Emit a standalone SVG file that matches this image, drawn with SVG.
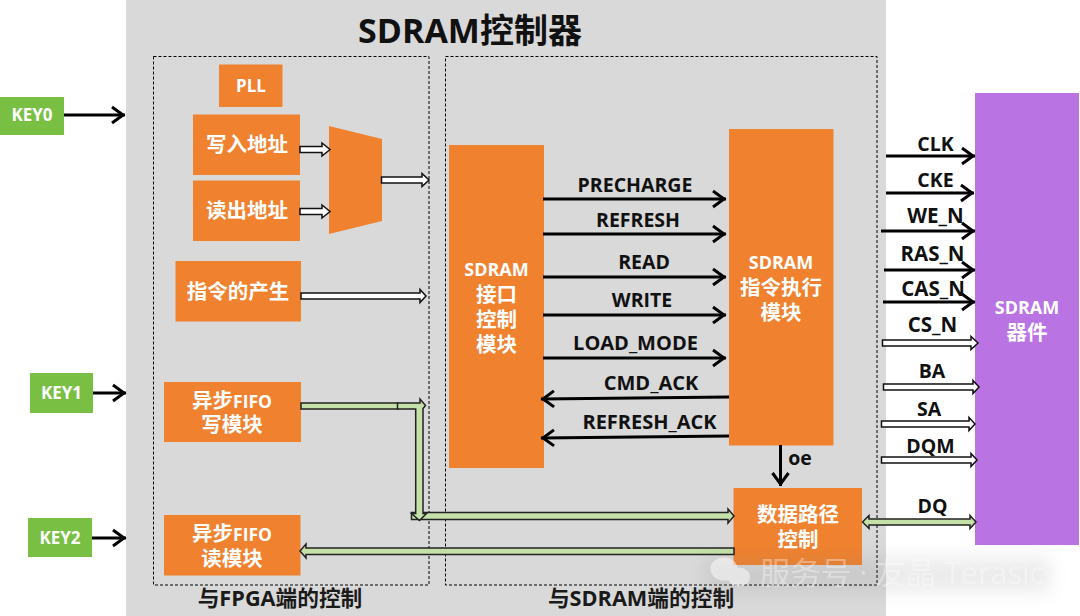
<svg xmlns="http://www.w3.org/2000/svg" width="1080" height="616" viewBox="0 0 1080 616">
<style>
text{font-family:"Open Sans","Noto Sans CJK SC",sans-serif;font-weight:700;text-anchor:middle}
.box{fill:#f0822f}
.key{fill:#78bf43}
.wt{fill:#fff;font-size:20.500px}
.lat{font-size:18px}
.fifo{font-size:17.500px}
.kt{fill:#fff;font-size:17px}
.lb{fill:#111;font-size:19.500px}
.nb{fill:#111;font-size:20.500px}
.sec{fill:#1a1a1a;font-size:21.700px}
.dash{fill:none;stroke:#000;stroke-width:1;stroke-dasharray:3 2}
.wire{fill:none;stroke:#000;stroke-width:3;marker-end:url(#open)}
.hollow{fill:#fff;stroke:#111;stroke-width:1.500}
.bus{fill:#c5e0a9;stroke:#222;stroke-width:1.500}
</style>
<defs>
<marker id="open" markerUnits="userSpaceOnUse" markerWidth="20" markerHeight="20" refX="17" refY="10" orient="auto">
<path d="M4 2 L15 10 L4 18" fill="none" stroke="#000" stroke-width="3"/>
</marker>
<filter id="soft" x="-20%" y="-60%" width="140%" height="220%"><feGaussianBlur stdDeviation="9"/></filter>
</defs>

<rect width="1080" height="616" fill="#fff"/>
<rect x="126" y="0" width="760" height="616" fill="#d9d9d9"/>
<text x="470" y="43" fill="#111" style="font-size:34px">SDRAM控制器</text>
<rect class="dash" x="153.500" y="56.500" width="275.500" height="528.500"/>
<rect class="dash" x="445.500" y="56.500" width="431.500" height="528.500"/>
<text class="sec" x="280" y="606">与FPGA端的控制</text>
<text class="sec" x="641" y="606">与SDRAM端的控制</text>

<g id="key0"><rect class="key" x="0" y="97" width="64" height="38"/><text class="kt" x="32" y="121">KEY0</text></g>
<g id="key1"><rect class="key" x="30" y="373" width="63" height="40"/><text class="kt" x="61.500" y="399">KEY1</text></g>
<g id="key2"><rect class="key" x="28" y="518" width="64" height="39"/><text class="kt" x="60" y="544">KEY2</text></g>

<g id="pll"><rect class="box" x="219" y="64.500" width="63.500" height="42.500"/><text class="kt" x="251" y="92">PLL</text></g>
<g id="write-addr"><rect class="box" x="193" y="114.500" width="107" height="60.500"/><text class="wt" x="247" y="152">写入地址</text></g>
<g id="read-addr"><rect class="box" x="193" y="180.500" width="107" height="60.500"/><text class="wt" x="247" y="218">读出地址</text></g>
<g id="addr-mux"><polygon class="box" points="329,126 382,139 382,221 329,234"/></g>
<g id="cmd-gen"><rect class="box" x="175.500" y="261" width="125.500" height="60.500"/><text class="wt" x="238" y="299">指令的产生</text></g>
<g id="fifo-write"><rect class="box" x="164" y="382" width="137" height="60"/><text class="wt"><tspan x="232" y="408">异步<tspan class="fifo">FIFO</tspan></tspan><tspan x="232" y="432">写模块</tspan></text></g>
<g id="fifo-read"><rect class="box" x="164" y="515" width="136.500" height="60.500"/><text class="wt"><tspan x="232" y="541">异步<tspan class="fifo">FIFO</tspan></tspan><tspan x="232" y="566">读模块</tspan></text></g>
<g id="sdram-if"><rect class="box" x="449" y="145" width="95" height="323"/><text class="wt"><tspan class="lat" x="496.500" y="276">SDRAM</tspan><tspan x="496.500" y="302">接口</tspan><tspan x="496.500" y="327">控制</tspan><tspan x="496.500" y="352">模块</tspan></text></g>
<g id="cmd-exec"><rect class="box" x="729" y="129" width="104.500" height="316.500"/><text class="wt"><tspan class="lat" x="781" y="269">SDRAM</tspan><tspan x="781" y="295">指令执行</tspan><tspan x="781" y="320">模块</tspan></text></g>
<g id="data-path"><rect class="box" x="733.500" y="488" width="128.500" height="77"/><text class="wt"><tspan x="798" y="522">数据路径</tspan><tspan x="798" y="547">控制</tspan></text></g>
<g id="sdram-dev"><rect x="975" y="93" width="104" height="452" fill="#b973e3"/><text class="wt"><tspan class="lat" x="1027" y="314">SDRAM</tspan><tspan x="1027" y="340">器件</tspan></text></g>

<g id="connectors">
<line class="wire" x1="64" y1="115" x2="125" y2="115"/>
<line class="wire" x1="93" y1="393" x2="126" y2="393"/>
<line class="wire" x1="92" y1="538" x2="126" y2="538"/>

<path class="hollow" d="M300 146.500H322V143L330 149.500L322 156V152.500H300Z"/>
<path class="hollow" d="M300 208.500H322V205L330 211.500L322 218V214.500H300Z"/>
<path class="hollow" d="M381.500 177H422V173.500L429 180L422 186.500V183H381.500Z"/>
<path class="hollow" d="M301 293H420V289.500L426 296L420 302.500V299H301Z"/>

<line class="wire" x1="543" y1="199" x2="726" y2="199"/>
<line class="wire" x1="543" y1="234" x2="726" y2="234"/>
<line class="wire" x1="543" y1="277" x2="726" y2="277"/>
<line class="wire" x1="543" y1="315" x2="726" y2="315"/>
<line class="wire" x1="543" y1="358" x2="726" y2="358"/>
<line class="wire" x1="729" y1="397" x2="541" y2="399"/>
<line class="wire" x1="729" y1="436" x2="541" y2="438"/>
<line class="wire" x1="780.500" y1="445" x2="780.500" y2="486"/>

<line class="wire" x1="886" y1="156" x2="975" y2="156"/>
<line class="wire" x1="886" y1="193" x2="974" y2="193"/>
<line class="wire" x1="881" y1="231" x2="975" y2="231"/>
<line class="wire" x1="884" y1="270" x2="975" y2="270"/>
<line class="wire" x1="883" y1="302" x2="975" y2="302"/>
<path class="hollow" d="M882.500 340H971V336.500L978 343L971 349.500V346H882.500Z"/>
<path class="hollow" d="M883.500 384H973V380.500L979 387L973 393.500V390H883.500Z"/>
<path class="hollow" d="M881.500 421H969V417.500L975 424L969 430.500V427H881.500Z"/>
<path class="hollow" d="M881.500 457H971V453.500L977 460L971 466.500V463H881.500Z"/>

<path class="bus" d="M301 403H398V409H301Z"/>
<path class="bus" d="M411.500 512.500H728V509L734 516L728 523V519.500H411.500Z"/>
<path class="bus" d="M397.500 403H420V399L425.500 405.500L423 408.500V513.500H426.500L419.500 520.500L411.500 513.500H415.700V409H397.500Z"/>
<path class="bus" d="M734 548H306V544L300 551L306 558V554.500H734Z"/>
<path class="bus" d="M869 519H970V515.500L976 522L970 528.500V525H869V528.500L862.500 522L869 515.500Z"/>
</g>

<g id="signal-labels">
<text class="lb" x="635" y="192">PRECHARGE</text>
<text class="lb" x="638" y="227">REFRESH</text>
<text class="lb" x="644" y="269">READ</text>
<text class="lb" x="642" y="307">WRITE</text>
<text class="lb" x="635.500" y="350" style="font-size:20px">LOAD_MODE</text>
<text class="lb" x="651" y="390" style="font-size:20px">CMD_ACK</text>
<text class="lb" x="649.500" y="429" style="font-size:20px">REFRESH_ACK</text>
<text class="lb" x="800" y="465">oe</text>
<text class="lb" x="935.500" y="151">CLK</text>
<text class="lb" x="935.500" y="187">CKE</text>
<text class="nb" x="935.500" y="223">WE_N</text>
<text class="nb" x="932.500" y="261">RAS_N</text>
<text class="nb" x="933" y="296">CAS_N</text>
<text class="nb" x="932.500" y="332">CS_N</text>
<text class="lb" x="932" y="378">BA</text>
<text class="lb" x="929" y="416">SA</text>
<text class="lb" x="930.500" y="453">DQM</text>
<text class="lb" x="932.500" y="513">DQ</text>
</g>

<g id="watermark">
<rect x="705" y="558" width="345" height="34" fill="#777" opacity=".14" filter="url(#soft)"/>
<g fill="#fff" opacity=".5">
<ellipse cx="724" cy="569" rx="13.500" ry="11.500"/>
<ellipse cx="739" cy="577" rx="11" ry="9.500"/>
</g>
<text x="902" y="584" style="font-size:30.500px;font-weight:400" fill="#fff" fill-opacity=".36">服务号 · 友晶 Terasic</text>
</g>
</svg>
